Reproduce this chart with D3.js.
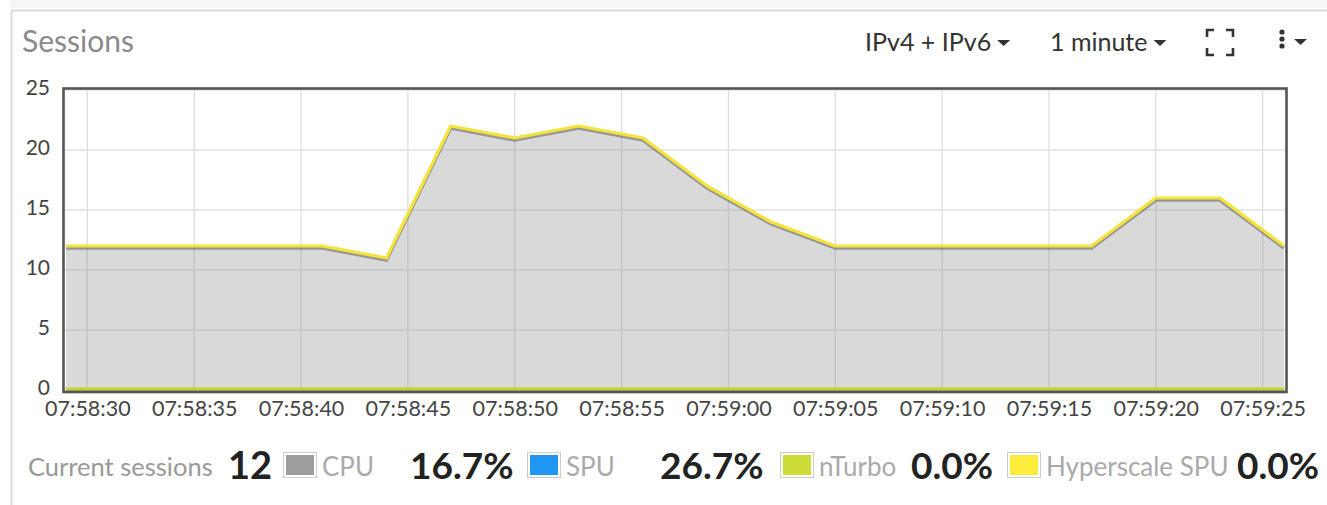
<!DOCTYPE html>
<html><head><meta charset="utf-8">
<script src="https://cdn.jsdelivr.net/npm/d3@7"></script>
<style>
html,body{margin:0;padding:0;background:#fff;}
svg{display:block;font-family:Lato,"Open Sans",sans-serif;}
</style></head>
<body><svg id="c" width="1327" height="505"></svg>
<script>
// ---- data ----
const times = ["07:58:29","07:58:32","07:58:35","07:58:38","07:58:41","07:58:44","07:58:47","07:58:50","07:58:53","07:58:56","07:58:59","07:59:02","07:59:05","07:59:08","07:59:11","07:59:14","07:59:17","07:59:20","07:59:23","07:59:26"];
const cpuSessions = [12,12,12,12,12,11,22,21,22,21,17,14,12,12,12,12,12,16,16,12];
const spuSessions = [0,0,0,0,0,0,0,0,0,0,0,0,0,0,0,0,0,0,0,0];
const nturboSessions = [0,0,0,0,0,0,0,0,0,0,0,0,0,0,0,0,0,0,0,0];
const hyperSessions = [0,0,0,0,0,0,0,0,0,0,0,0,0,0,0,0,0,0,0,0];
const xTickLabels = ["07:58:30","07:58:35","07:58:40","07:58:45","07:58:50","07:58:55","07:59:00","07:59:05","07:59:10","07:59:15","07:59:20","07:59:25"];
const yTicks = [0,5,10,15,20,25];
const legendNames = ["CPU","SPU","nTurbo","Hyperscale SPU"];
const legendValues = ["16.7%","26.7%","0.0%","0.0%"];
const currentSessions = "12";
const title = "Sessions";
const menus = ["IPv4 + IPv6","1 minute"];

const parse = d3.timeParse("%H:%M:%S");
const svg = d3.select("#c");

// panel
svg.append("rect").attr("x",10).attr("y",0).attr("width",1317).attr("height",8).attr("fill","#f6f6f6");
svg.append("path").attr("d","M11.5,505 V10.5 H1327").attr("fill","none").attr("stroke","#dcdcdc").attr("stroke-width",2);

svg.append("text").attr("x",22).attr("y",52).attr("font-size",30).attr("fill","#8a8a8a").text(title);

// header menus
const menuX=[865,1050];
menus.forEach((m,i)=>{
  const t=svg.append("text").attr("x",menuX[i]).attr("y",51).attr("font-size",25).attr("fill","#333").text(m);
  const w=t.node().getComputedTextLength();
  const cx=menuX[i]+w+7;
  svg.append("path").attr("d",`M${cx-1},40 L${cx+12},40 L${cx+5.5},46 Z`).attr("fill","#333");
});
// fullscreen icon
const fx0=1207,fx1=1233,fy0=30,fy1=55,a=7;
svg.append("path").attr("fill","none").attr("stroke","#333").attr("stroke-width",2.6)
 .attr("d",`M${fx0},${fy0+a} V${fy0} H${fx0+a} M${fx1-a},${fy0} H${fx1} V${fy0+a} M${fx1},${fy1-a} V${fy1} H${fx1-a} M${fx0+a},${fy1} H${fx0} V${fy1-a}`);
// kebab
[32,39,46].forEach(y=>svg.append("circle").attr("cx",1282).attr("cy",y).attr("r",2.6).attr("fill","#333"));
svg.append("path").attr("d","M1294,39 L1307,39 L1300.5,45 Z").attr("fill","#333");

// chart
const L=64,R=1286,T=89,B=390;
const x=d3.scaleTime().domain([parse(times[0]),parse(times[times.length-1])]).range([66,1284]);
const y=d3.scaleLinear().domain([0,25]).range([B,90]);

// grid
const g=svg.append("g");
g.selectAll(".vg").data(xTickLabels).enter().append("line")
 .attr("x1",d=>x(parse(d))).attr("x2",d=>x(parse(d))).attr("y1",T).attr("y2",B)
 .attr("stroke","#dedede").attr("stroke-width",1.3);
g.selectAll(".hg").data(yTicks).enter().append("line")
 .attr("x1",L).attr("x2",R).attr("y1",d=>y(d)).attr("y2",d=>y(d))
 .attr("stroke","#e2e2e2").attr("stroke-width",1.5);

const data=times.map((t,i)=>({t:parse(t),cpu:cpuSessions[i],spu:spuSessions[i],nt:nturboSessions[i],hy:hyperSessions[i]}));
const area=d3.area().x(d=>x(d.t)).y0(y(0)).y1(d=>y(d.cpu+d.spu+d.nt+d.hy));
svg.append("path").datum(data).attr("d",area).attr("fill","rgba(130,130,130,0.3)");

const lineTop=d3.line().x(d=>x(d.t)).y(d=>y(d.cpu+d.spu+d.nt+d.hy));
const lineBot=d3.line().x(d=>x(d.t)).y(d=>y(d.spu+d.nt)-1);
// shadows
svg.append("path").datum(data).attr("d",lineTop).attr("fill","none").attr("stroke","rgba(0,0,0,0.3)").attr("stroke-width",3.5).attr("transform","translate(0,2)");
svg.append("path").datum(data).attr("d",lineBot).attr("fill","none").attr("stroke","rgba(0,0,0,0.3)").attr("stroke-width",3).attr("transform","translate(0,2)");
svg.append("path").datum(data).attr("d",lineBot).attr("fill","none").attr("stroke","#c6d22e").attr("stroke-width",3);
svg.append("path").datum(data).attr("d",lineTop).attr("fill","none").attr("stroke","#f3e33a").attr("stroke-width",3.2).attr("stroke-linejoin","round");

// frame
svg.append("rect").attr("x",L-0.5).attr("y",T-0.5).attr("width",R-L+1).attr("height",B-T+2.5).attr("fill","none").attr("stroke","#555").attr("stroke-width",2.6);

// axes
const yAxis=d3.axisLeft(y).tickValues(yTicks).tickSize(0).tickPadding(14);
const ya=svg.append("g").attr("transform",`translate(${L},0)`).call(yAxis);
ya.select(".domain").remove();
ya.selectAll("text").attr("font-size",21).attr("fill","#444").attr("font-family","Lato,sans-serif").attr("dy","0.2em");
const xAxis=d3.axisBottom(x).tickValues(xTickLabels.map(parse)).tickFormat(d3.timeFormat("%H:%M:%S")).tickSize(0).tickPadding(11);
const xa=svg.append("g").attr("transform",`translate(0,${B})`).call(xAxis);
xa.select(".domain").remove();
xa.selectAll("text").attr("font-size",21.5).attr("fill","#444").attr("font-family","Lato,sans-serif");

// legend
const ly=476;
svg.append("text").attr("x",28).attr("y",ly).attr("font-size",25.5).attr("fill","#999").text("Current sessions");
svg.append("text").attr("x",228).attr("y",ly+3).attr("font-size",38).attr("font-weight",700).attr("fill","#222").text(currentSessions);
const colors=["#9e9e9e","#2196f3","#cddc39","#ffeb3b"];
const swX=[283,527,780,1007];
const valX=[410,660,911,1237];
legendNames.forEach((n,i)=>{
  svg.append("rect").attr("x",swX[i]+0.5).attr("y",452.5).attr("width",33).attr("height",25).attr("fill","#fff").attr("stroke","#ccc");
  svg.append("rect").attr("x",swX[i]+3).attr("y",455).attr("width",28).attr("height",20).attr("fill",colors[i]);
  svg.append("text").attr("x",swX[i]+39).attr("y",ly).attr("font-size",26).attr("fill","#aaa").text(n);
  svg.append("text").attr("x",valX[i]).attr("y",ly+3).attr("font-size",37).attr("font-weight",700).attr("fill","#222").text(legendValues[i]);
});
</script></body></html>
